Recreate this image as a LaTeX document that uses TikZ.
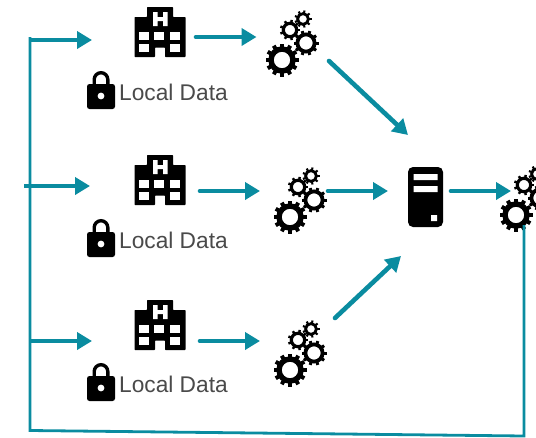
\documentclass[tikz,border=0pt]{standalone}
\usepackage{fontspec}
\setmainfont{Liberation Sans}
\usetikzlibrary{arrows.meta,calc}
\definecolor{teal1}{HTML}{0A8CA0}
\definecolor{txt}{HTML}{4A4A4A}
\tikzset{
  flow/.style={draw=teal1,line width=4.6pt,line cap=round,-{Triangle[length=15pt,width=17pt]}},
  loopline/.style={draw=teal1,line width=2.8pt},
  slot/.style={draw=none,inner sep=0pt,outer sep=0pt},
  lbl/.style={inner sep=0pt,anchor=base west,text=txt,font=\fontsize{22.7}{25}\selectfont},
  hospital/.pic={
    \fill[black,rounded corners=.6pt] (-25.5,-15)--(-13,-15)--(-13,-25)--(13,-25)--(13,-15)--(25.5,-15)--(25.5,25)--(5,25)--(5,15.5)--(-5,15.5)--(-5,25)--(-25.5,25)--cycle;
    \fill[white] (-7,-20) rectangle (-2.5,-6) (3,-20) rectangle (7.5,-6) (-3,-15) rectangle (3.5,-11);
    \foreach \x in {-21,-6,10}{\fill[white] (\x,0) rectangle (\x+10,7.5);}
    \foreach \x in {-21,10}{\fill[white] (\x,12) rectangle (\x+10,20);}
  },
  padlock/.pic={
    \draw[black,line width=3.4pt] (-6.8,-3) -- (-6.8,-10.5) arc[start angle=180,end angle=360,radius=6.8] -- (6.8,-3);
    \fill[black,rounded corners=2.5pt] (-14,-6) rectangle (14,19);
    \fill[white] (0,6) circle[radius=3.4];
  },
  server/.pic={
    \fill[black,rounded corners=5pt] (-17.5,-30) rectangle (17.5,30);
    \fill[white] (-12,-23) rectangle (12,-17) (-12,-11) rectangle (12,-5) (5.5,18) rectangle (11.5,24);
  },
  gearset/.pic={
    \foreach \cx/\cy/\r/\n/\w/\o in {0/0/11/12/5.4/16.5,24/-17/8.6/10/3.8/12.5,8/-30/6.7/9/3.2/10.2,21/-41/5.4/9/2.8/8.6}{
      \begin{scope}[shift={(\cx,\cy)}]
        \draw[black,line width=\w pt] (0,0) circle[radius=\r];
        \pgfmathsetmacro{\st}{360/\n}
        \foreach \i in {1,...,\n}{
          \draw[black,line width=.24*\o pt] (\i*\st:\r) -- (\i*\st:\o);
        }
      \end{scope}
    }
  },
}
\begin{document}
\begin{tikzpicture}[x=1pt,y=-1pt]
\useasboundingbox (0,0) rectangle (536,437);
\fill[white] (0,0) rectangle (536,437);
% invisible frames that the connectors attach to
\node[slot,minimum width=52pt,minimum height=50pt] (hosp1) at (160,32) {};
\node[slot,minimum width=52pt,minimum height=50pt] (hosp2) at (160,180) {};
\node[slot,minimum width=52pt,minimum height=50pt] (hosp3) at (160,325) {};
\node[slot,minimum width=52pt,minimum height=64pt] (gear1) at (292.5,43.5) {};
\node[slot,minimum width=52pt,minimum height=64pt] (gear2) at (300.5,200.5) {};
\node[slot,minimum width=52pt,minimum height=64pt] (gear3) at (300.5,353.5) {};
\node[slot,minimum width=52pt,minimum height=64pt] (gear4) at (526.5,198.5) {};
\node[slot,minimum width=35pt,minimum height=60pt] (srv) at (425.5,197) {};
\coordinate (bus1) at (30,40);
\coordinate (bus2) at (24,186);
\coordinate (bus3) at (30,341);
\coordinate (busT) at (30,37);
\coordinate (busB) at (30,430.5);
\coordinate (busR) at (524,436);
% icons
\pic at (hosp1) {hospital};
\pic at (hosp2) {hospital};
\pic at (hosp3) {hospital};
\foreach \n/\x/\y in {gear1/282/60,gear2/290/217,gear3/290/370,gear4/516/215}{\pic at (\x,\y) {gearset};}
\pic at (srv) {server};
\foreach \y in {90,238,382}{\pic at (101,\y) {padlock};}
\node[lbl] (l1) at (119,100) {Local Data};
\node[lbl] (l2) at (119,248) {Local Data};
\node[lbl] (l3) at (119,392) {Local Data};
% connectors
\draw[loopline] (busT) -- (busB) -- (busR) -- ($(gear4.south)+(-2.5,-5.5)$);
\draw[flow,line cap=butt] (bus1) -- ($(hosp1.west)+(-42,8)$);
\draw[flow,line cap=butt] (bus2) -- ($(hosp2.west)+(-44,6)$);
\draw[flow,line cap=butt] (bus3) -- ($(hosp3.west)+(-42,16)$);
\draw[flow] ($(hosp1.east)+(10,5)$) -- ($(gear1.west)+(-10,-6.5)$);
\draw[flow] ($(hosp2.east)+(14,11)$) -- ($(gear2.west)+(-14.5,-9.5)$);
\draw[flow] ($(hosp3.east)+(14,16)$) -- ($(gear3.west)+(-14.5,-12.5)$);
\draw[flow] ($(gear1.east)+(10.5,17.5)$) -- ($(srv.north)+(-17.5,-32)$);
\draw[flow] ($(gear2.east)+(1.5,-9.5)$) -- ($(srv.west)+(-20,-6)$);
\draw[flow] ($(gear3.east)+(8.5,-35.5)$) -- ($(srv.south)+(-24.5,29)$);
\draw[flow] ($(srv.east)+(8,-6)$) -- ($(gear4.west)+(10.5,-7.5)$);
\end{tikzpicture}
\end{document}
